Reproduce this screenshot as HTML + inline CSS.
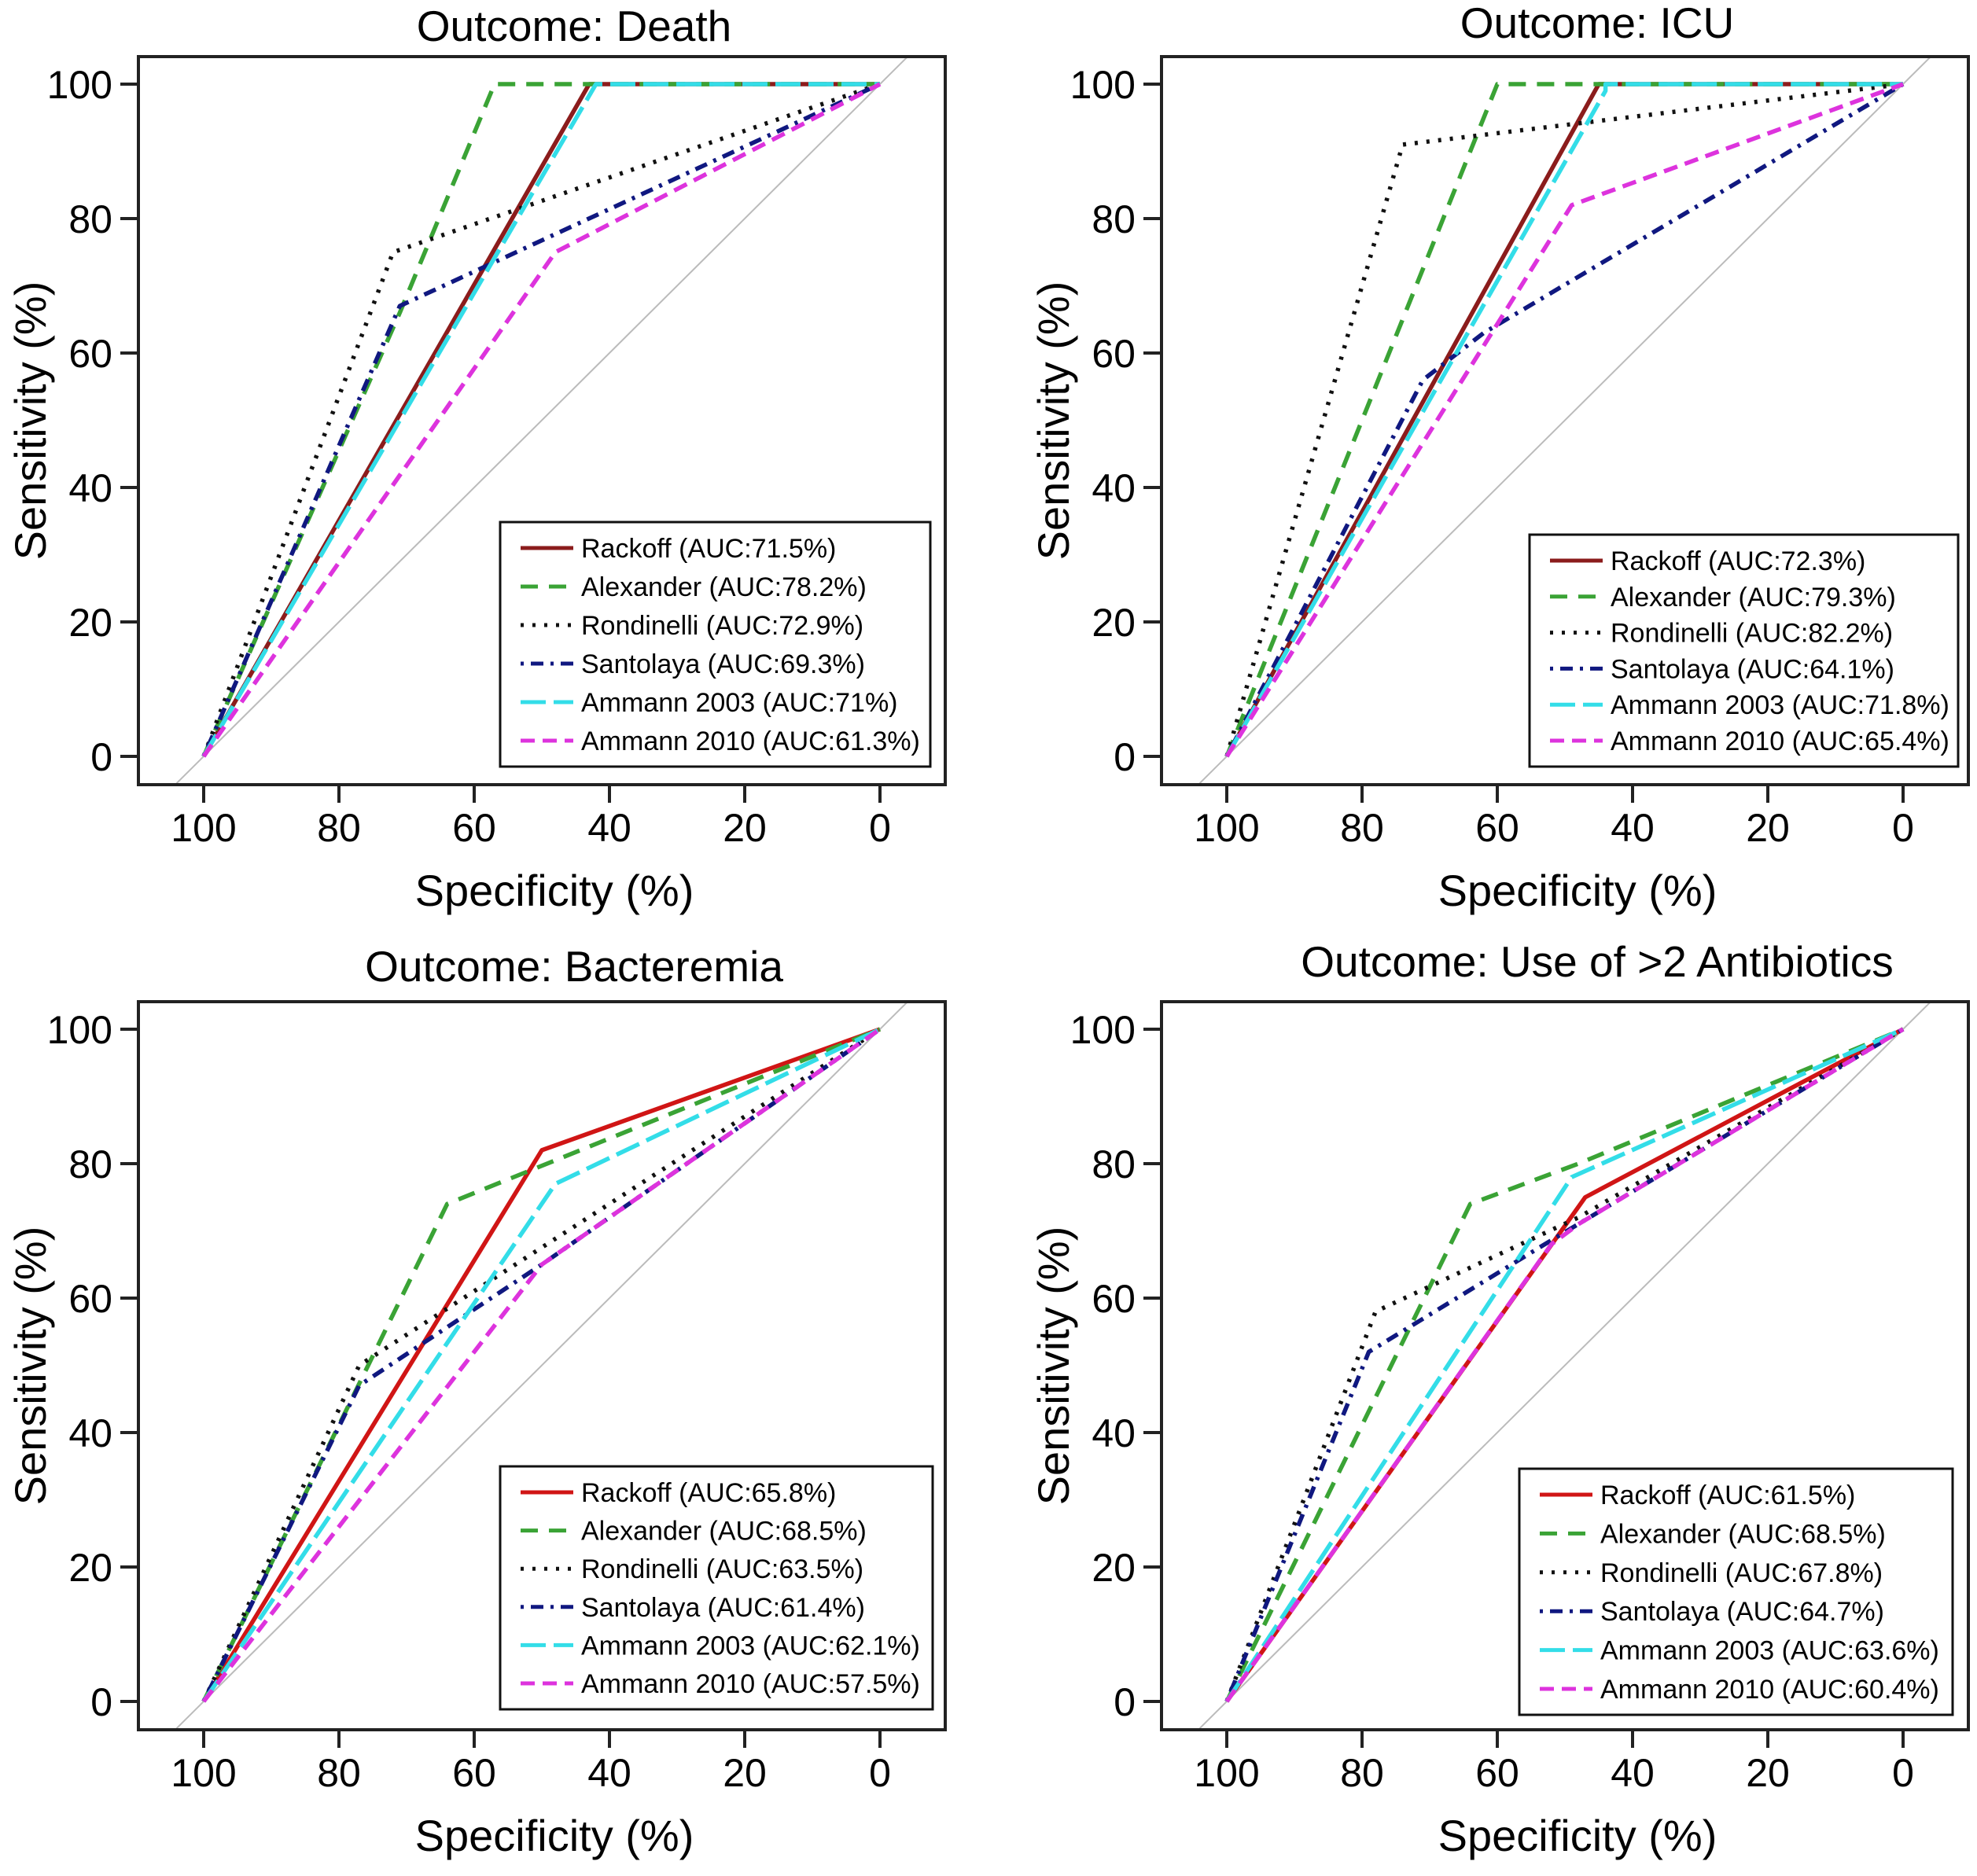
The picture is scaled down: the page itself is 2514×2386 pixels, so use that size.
<!DOCTYPE html>
<html><head><meta charset="utf-8"><style>
body{margin:0;background:#fff}
svg{display:block;font-family:"Liberation Sans",Arial,sans-serif}
</style></head><body>
<svg id="fig" width="2514" height="2386" viewBox="0 0 2514 2386" xmlns="http://www.w3.org/2000/svg"></svg>
<script>
const panelTitles = ["Outcome: Death","Outcome: ICU","Outcome: Bacteremia","Outcome: Use of >2 Antibiotics"];
const seriesNames = ["Rackoff","Alexander","Rondinelli","Santolaya","Ammann 2003","Ammann 2010"];
const aucDeath = ["71.5%","78.2%","72.9%","69.3%","71%","61.3%"];
const aucICU = ["72.3%","79.3%","82.2%","64.1%","71.8%","65.4%"];
const aucBact = ["65.8%","68.5%","63.5%","61.4%","62.1%","57.5%"];
const aucAbx = ["61.5%","68.5%","67.8%","64.7%","63.6%","60.4%"];
const xTicks = [100,80,60,40,20,0];
const yTicks = [0,20,40,60,80,100];
// [specificity, sensitivity] pairs
const deathRackoff=[[100,0],[43,100],[0,100]];
const deathAlexander=[[100,0],[71,66],[57,100],[0,100]];
const deathRondinelli=[[100,0],[72,75],[0,100]];
const deathSantolaya=[[100,0],[71,67],[0,100]];
const deathAmmann03=[[100,0],[42,100],[0,100]];
const deathAmmann10=[[100,0],[48,75],[0,100]];
const icuRackoff=[[100,0],[45,100],[0,100]];
const icuAlexander=[[100,0],[60,100],[0,100]];
const icuRondinelli=[[100,0],[74,91],[0,100]];
const icuSantolaya=[[100,0],[71,56],[62,63],[0,100]];
const icuAmmann03=[[100,0],[44,99],[44,100],[0,100]];
const icuAmmann10=[[100,0],[49,82],[0,100]];
const bactRackoff=[[100,0],[50,82],[0,100]];
const bactAlexander=[[100,0],[64,74],[0,100]];
const bactRondinelli=[[100,0],[77,50],[0,100]];
const bactSantolaya=[[100,0],[77,47],[50,65],[0,100]];
const bactAmmann03=[[100,0],[48,77],[0,100]];
const bactAmmann10=[[100,0],[50,65],[0,100]];
const abxRackoff=[[100,0],[47,75],[17,91],[0,100]];
const abxAlexander=[[100,0],[64,74],[48,80],[0,100]];
const abxRondinelli=[[100,0],[78,58],[48,72],[0,100]];
const abxSantolaya=[[100,0],[79,52],[53,68],[0,100]];
const abxAmmann03=[[100,0],[49,78],[0,100]];
const abxAmmann10=[[100,0],[52,68],[48,71],[0,100]];

const panels=[
 {ox:0,oy:0,ty:52,auc:aucDeath,data:[deathRackoff,deathAlexander,deathRondinelli,deathSantolaya,deathAmmann03,deathAmmann10],rack:"#8b1c1c",lg:[636,664,1183,975]},
 {ox:1301,oy:0,ty:48,auc:aucICU,data:[icuRackoff,icuAlexander,icuRondinelli,icuSantolaya,icuAmmann03,icuAmmann10],rack:"#8b1c1c",lg:[644,680,1189,975]},
 {ox:0,oy:1202,ty:46,auc:aucBact,data:[bactRackoff,bactAlexander,bactRondinelli,bactSantolaya,bactAmmann03,bactAmmann10],rack:"#d01515",lg:[636,663,1186,972]},
 {ox:1301,oy:1202,ty:40,auc:aucAbx,data:[abxRackoff,abxAlexander,abxRondinelli,abxSantolaya,abxAmmann03,abxAmmann10],rack:"#d01515",lg:[631,666,1182,979]}
];
const colors=[null,"#3aa335","#111111","#101880","#33dde8","#dd33dd"];
const dashes=["none","22 14","4 11","4 9 16 9","32 10","18 10"];
const NS="http://www.w3.org/2000/svg";
const svg=document.getElementById('fig');
function el(t,a,p){const e=document.createElementNS(NS,t);for(const k in a)e.setAttribute(k,a[k]);(p||svg).appendChild(e);return e;}
panels.forEach((P,pi)=>{
 const g=el('g',{transform:`translate(${P.ox},${P.oy})`});
 
 
 const xs=v=>1119-v*8.6, ys=v=>962-v*8.55;
 const d=el('line',{x1:xs(104),y1:ys(-4),x2:xs(-4),y2:ys(104),stroke:"#bbb","stroke-width":2},g);
 
 
 P.data.forEach((pts,si)=>{
  const col=si===0?P.rack:colors[si];
  const pl=el('polyline',{points:pts.map(p=>xs(p[0])+","+ys(p[1])).join(" "),fill:"none",stroke:col,"stroke-width":5.5,"stroke-dasharray":dashes[si],"stroke-linejoin":"round"},g);
  
  
 });
 const b=el('rect',{x:176,y:72,width:1026,height:926,fill:"none",stroke:"#222","stroke-width":4},g);
 
 
 yTicks.forEach(v=>{
  el('line',{x1:153,y1:ys(v),x2:176,y2:ys(v),stroke:"#222","stroke-width":4},g);
  const t=el('text',{x:143,y:ys(v)+18,"font-size":50,"text-anchor":"end"},g);t.textContent=v;
  
  
 });
 xTicks.forEach(v=>{
  el('line',{x1:xs(v),y1:998,x2:xs(v),y2:1021,stroke:"#222","stroke-width":4},g);
  const t=el('text',{x:xs(v),y:1070,"font-size":50,"text-anchor":"middle"},g);t.textContent=v;
  
  
 });
 const ti=el('text',{x:730,y:P.ty,"font-size":55,"text-anchor":"middle"},g);ti.textContent=panelTitles[pi];
 
 
 const xl=el('text',{x:705,y:1152,"font-size":56,"text-anchor":"middle"},g);xl.textContent="Specificity (%)";
 
 
 const yl=el('text',{x:0,y:0,"font-size":56,"text-anchor":"middle",transform:`translate(58,535) rotate(-90)`},g);yl.textContent="Sensitivity (%)";
 
 
 const [lx1,ly1,lx2,ly2]=P.lg;
 const lb=el('rect',{x:lx1,y:ly1,width:lx2-lx1,height:ly2-ly1,fill:"#fff",stroke:"#111","stroke-width":3},g);
 
 
 const step=(ly2-ly1-66)/5;
 seriesNames.forEach((n,si)=>{
  const yy=ly1+33+si*step;
  const col=si===0?P.rack:colors[si];
  const ln=el('line',{x1:lx1+26,y1:yy,x2:lx1+93,y2:yy,stroke:col,"stroke-width":5,"stroke-dasharray":dashes[si]},g);
  
  
  const t=el('text',{x:lx1+103,y:yy+12,"font-size":34},g);t.textContent=n+" (AUC:"+P.auc[si]+")";
  
  
 });
});
</script>
</body></html>
